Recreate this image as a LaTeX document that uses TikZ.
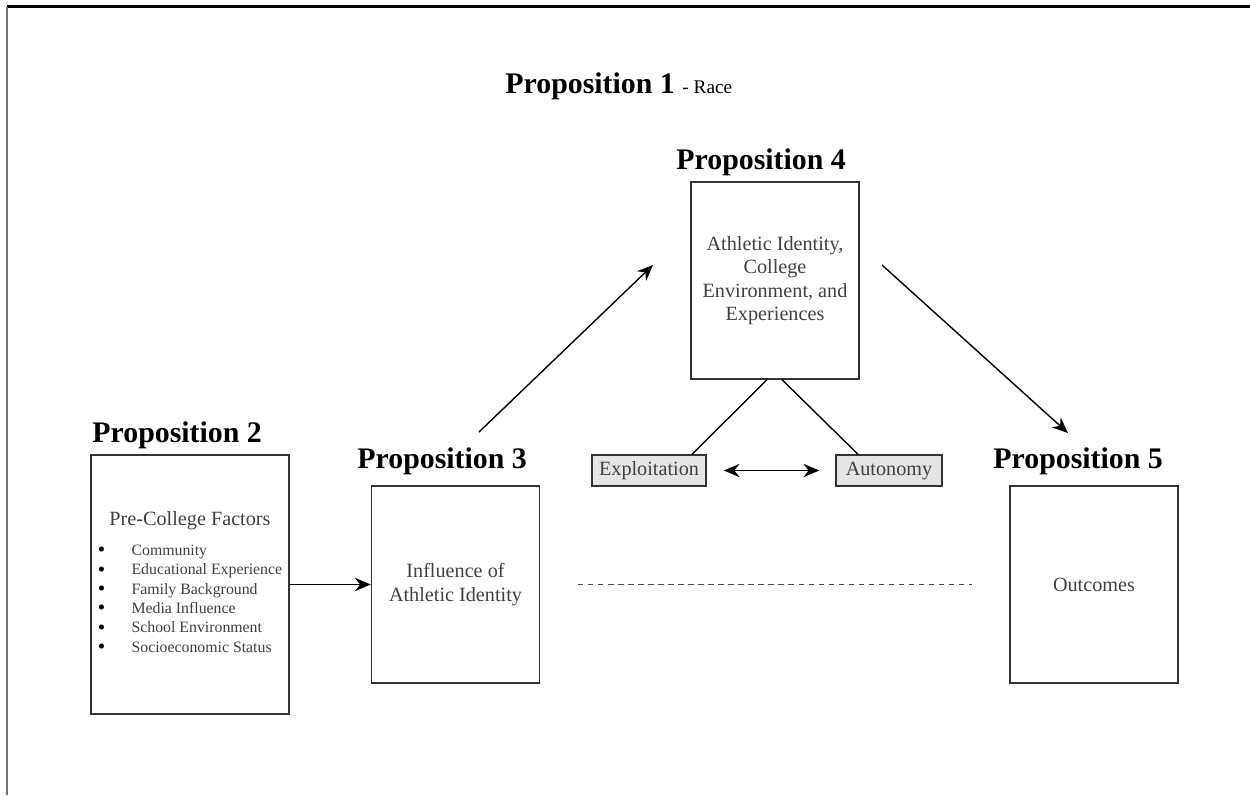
\documentclass[tikz,border=0pt]{standalone}
\usepackage{fontspec}
\setmainfont{Liberation Serif}
\usetikzlibrary{arrows.meta}

\newcommand{\dotmark}{\raisebox{-0.8pt}{\textcolor{black}{\large\textbullet}}}

\begin{document}
\begin{tikzpicture}[
  x=0.02cm, y=-0.02cm,
  title/.style={anchor=base west, inner sep=0pt, font=\fontsize{17}{20}\selectfont\bfseries},
  box/.style={rectangle, draw=black!80, line width=0.8pt, minimum width=3.36cm, minimum height=3.94cm, inner sep=0pt, align=center, text=black!75, font=\fontsize{11.5}{13.3}\selectfont},
  tag/.style={rectangle, draw=black!80, line width=0.8pt, fill=black!10, minimum height=0.62cm, inner sep=0pt, text=black!75, font=\fontsize{11.5}{13}\selectfont},
  arrow/.style={-{Stealth[length=9pt,width=7.5pt]}, line width=0.8pt},
  twoway/.style={{Stealth[length=9pt,width=7.5pt]}-{Stealth[length=9pt,width=7.5pt]}, line width=0.8pt},
  link/.style={line width=0.8pt}
]
  \useasboundingbox (0,0) rectangle (1250,795);
  % page frame
  \draw[line width=1.2pt] (7,6.5) -- (1250,6.5);
  \draw[black!55, line width=0.8pt] (7,6.5) -- (7,795);

  \node[title] (t1) at (505,93) {Proposition 1 {\mdseries\fontsize{11}{12}\selectfont- Race}};
  \node[title] (t2) at (92,442) {Proposition 2};
  \node[title] (t3) at (357,468) {Proposition 3};
  \node[title] (t4) at (676,169) {Proposition 4};
  \node[title] (t5) at (993,468) {Proposition 5};

  \node[box, minimum width=3.96cm, minimum height=5.18cm] (p2) at (190,584.5) {Pre-College Factors\\[6pt]
    {\fontsize{9}{11}\selectfont\begin{tabular}{@{}c@{\hspace{15pt}}l@{}}
      \dotmark & Community\\
      \dotmark & Educational Experience\\
      \dotmark & Family Background\\
      \dotmark & Media Influence\\
      \dotmark & School Environment\\
      \dotmark & Socioeconomic Status
    \end{tabular}}};
  \node[box] (p3) at (455.5,584.5) {Influence of\\Athletic Identity};
  \node[box] (p4) at (775,280.5) {Athletic Identity,\\College\\Environment, and\\Experiences};
  \node[box] (p5) at (1094,584.5) {Outcomes};

  \node[tag, minimum width=2.28cm] (expl) at (649,470.5) {Exploitation};
  \node[tag, minimum width=2.12cm] (auto) at (889,470.5) {Autonomy};

  \coordinate (up1) at (479,432);
  \coordinate (up2) at (653,265);
  \coordinate (dn1) at (882,265);
  \coordinate (dn2) at (1068,433);

  \draw[arrow] (p2) -- (p3);
  \draw[arrow] (up1) -- (up2);
  \draw[arrow] (dn1) -- (dn2);
  \draw[link] ([xshift=-0.16cm]p4.south) -- ([xshift=0.86cm]expl.north);
  \draw[link] ([xshift=0.14cm]p4.south) -- ([xshift=-0.62cm]auto.north);
  \draw[twoway, shorten <=0.34cm, shorten >=0.32cm] (expl) -- (auto);
  \draw[black!70, line width=0.6pt, dash pattern=on 3pt off 2.7pt, shorten <=0.76cm, shorten >=0.74cm] (p3) -- (p5);
\end{tikzpicture}
\end{document}
